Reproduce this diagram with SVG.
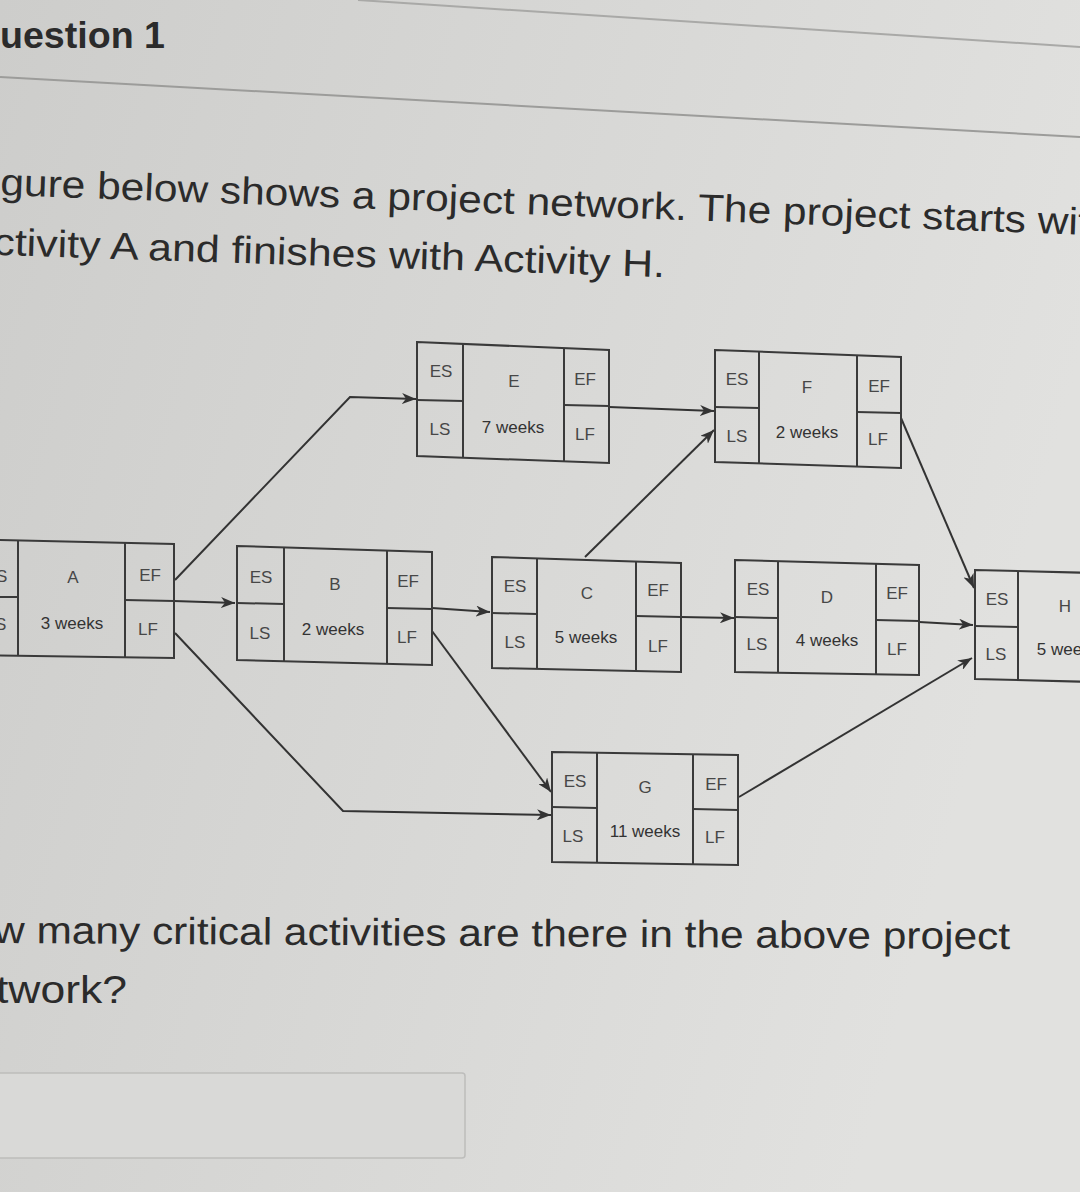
<svg xmlns="http://www.w3.org/2000/svg" width="1080" height="1192" viewBox="0 0 1080 1192">
<defs>
<linearGradient id="bg" x1="0" y1="0" x2="1" y2="0.3">
<stop offset="0" stop-color="#cdcdcb"/>
<stop offset="0.5" stop-color="#d7d7d5"/>
<stop offset="1" stop-color="#e1e1df"/>
</linearGradient>
<marker id="arr" markerUnits="userSpaceOnUse" markerWidth="15" markerHeight="11" refX="14" refY="5.5" orient="auto">
<path d="M0,0 L14,5.5 L0,11 L4,5.5 z" fill="#333"/>
</marker>
<style>
.hd{font-family:"Liberation Sans",Arial,sans-serif;fill:#2b2b2b}
.box{fill:none;stroke:#3a3a3a;stroke-width:2}
.div{stroke:#3a3a3a;stroke-width:2;fill:none}
.lb{font-family:"Liberation Sans",Arial,sans-serif;font-size:17px;fill:#474747;text-anchor:middle}
.du{font-family:"Liberation Sans",Arial,sans-serif;font-size:17px;fill:#333;text-anchor:middle}
.cn{fill:none;stroke:#333;stroke-width:2;marker-end:url(#arr)}
</style>
</defs>
<rect x="0" y="0" width="1080" height="1192" fill="url(#bg)"/>
<g id="header">
<line x1="358" y1="0" x2="1080" y2="47" stroke="#a9a9a7" stroke-width="2"/>
<line x1="0" y1="77" x2="1080" y2="137" stroke="#9c9c9a" stroke-width="2"/>
<text class="hd" x="0" y="48" font-size="37" font-weight="bold" textLength="165" lengthAdjust="spacingAndGlyphs">uestion 1</text>
<text class="hd" x="0" y="195" font-size="38" transform="rotate(2.1 0 195)" textLength="1090" lengthAdjust="spacingAndGlyphs">gure below shows a project network. The project starts wit</text>
<text class="hd" x="-7" y="255" font-size="38" transform="rotate(1.9 0 255)" textLength="672" lengthAdjust="spacingAndGlyphs">ctivity A and finishes with Activity H.</text>
</g>
<g id="connectors">
<polyline class="cn" points="175,580 350,397 416,399"/>
<line class="cn" x1="174" y1="601" x2="235" y2="603"/>
<polyline class="cn" points="175,633 343,811 551,815"/>
<line class="cn" x1="432" y1="608" x2="490" y2="612"/>
<line class="cn" x1="432" y1="631" x2="551" y2="792"/>
<line class="cn" x1="609" y1="407" x2="714" y2="411"/>
<line class="cn" x1="585" y1="557" x2="714" y2="430"/>
<line class="cn" x1="681" y1="617" x2="734" y2="618"/>
<line class="cn" x1="901" y1="418" x2="974" y2="588"/>
<line class="cn" x1="919" y1="622" x2="973" y2="625"/>
<line class="cn" x1="739" y1="797" x2="972" y2="658"/>
</g>
<g id="node-A">
<polygon class="box" points="-40,539 174,544 174,658 -40,655"/>
<line class="div" x1="18" y1="540" x2="18" y2="656"/>
<line class="div" x1="125" y1="543" x2="125" y2="657"/>
<line class="div" x1="-40" y1="597" x2="18" y2="597"/>
<line class="div" x1="125" y1="600" x2="174" y2="601"/>
<text class="lb" x="-4" y="582">ES</text>
<text class="lb" x="-4" y="630">LS</text>
<text class="lb" x="73" y="583">A</text>
<text class="du" x="72" y="629">3 weeks</text>
<text class="lb" x="150" y="581">EF</text>
<text class="lb" x="148" y="635">LF</text>
</g>
<g id="node-B">
<polygon class="box" points="237,546 432,552 432,665 237,660"/>
<line class="div" x1="284" y1="547" x2="284" y2="661"/>
<line class="div" x1="387" y1="550" x2="387" y2="664"/>
<line class="div" x1="237" y1="603" x2="284" y2="604"/>
<line class="div" x1="387" y1="608" x2="432" y2="609"/>
<text class="lb" x="261" y="583">ES</text>
<text class="lb" x="335" y="590">B</text>
<text class="lb" x="408" y="587">EF</text>
<text class="lb" x="260" y="639">LS</text>
<text class="du" x="333" y="635">2 weeks</text>
<text class="lb" x="407" y="643">LF</text>
</g>
<g id="node-E">
<polygon class="box" points="417,342 609,350 609,463 417,456"/>
<line class="div" x1="463" y1="344" x2="463" y2="458"/>
<line class="div" x1="564" y1="348" x2="564" y2="462"/>
<line class="div" x1="417" y1="400" x2="463" y2="401"/>
<line class="div" x1="564" y1="405" x2="609" y2="406"/>
<text class="lb" x="441" y="377">ES</text>
<text class="lb" x="514" y="387">E</text>
<text class="lb" x="585" y="385">EF</text>
<text class="lb" x="440" y="435">LS</text>
<text class="du" x="513" y="433">7 weeks</text>
<text class="lb" x="585" y="440">LF</text>
</g>
<g id="node-F">
<polygon class="box" points="715,350 901,357 901,468 715,462"/>
<line class="div" x1="759" y1="352" x2="759" y2="464"/>
<line class="div" x1="857" y1="355" x2="857" y2="467"/>
<line class="div" x1="715" y1="407" x2="759" y2="408"/>
<line class="div" x1="857" y1="412" x2="901" y2="413"/>
<text class="lb" x="737" y="385">ES</text>
<text class="lb" x="807" y="393">F</text>
<text class="lb" x="879" y="392">EF</text>
<text class="lb" x="737" y="442">LS</text>
<text class="du" x="807" y="438">2 weeks</text>
<text class="lb" x="878" y="445">LF</text>
</g>
<g id="node-C">
<polygon class="box" points="492,557 681,563 681,672 492,668"/>
<line class="div" x1="537" y1="558" x2="537" y2="669"/>
<line class="div" x1="636" y1="561" x2="636" y2="671"/>
<line class="div" x1="492" y1="613" x2="537" y2="614"/>
<line class="div" x1="636" y1="616" x2="681" y2="617"/>
<text class="lb" x="515" y="592">ES</text>
<text class="lb" x="587" y="599">C</text>
<text class="lb" x="658" y="596">EF</text>
<text class="lb" x="515" y="648">LS</text>
<text class="du" x="586" y="643">5 weeks</text>
<text class="lb" x="658" y="652">LF</text>
</g>
<g id="node-D">
<polygon class="box" points="735,560 919,565 919,675 735,672"/>
<line class="div" x1="778" y1="561" x2="778" y2="673"/>
<line class="div" x1="876" y1="564" x2="876" y2="674"/>
<line class="div" x1="735" y1="617" x2="778" y2="618"/>
<line class="div" x1="876" y1="620" x2="919" y2="621"/>
<text class="lb" x="758" y="595">ES</text>
<text class="lb" x="827" y="603">D</text>
<text class="lb" x="897" y="599">EF</text>
<text class="lb" x="757" y="650">LS</text>
<text class="du" x="827" y="646">4 weeks</text>
<text class="lb" x="897" y="655">LF</text>
</g>
<g id="node-H">
<polygon class="box" points="975,570 1095,573 1095,682 975,679"/>
<line class="div" x1="1018" y1="571" x2="1018" y2="680"/>
<line class="div" x1="975" y1="626" x2="1018" y2="627"/>
<text class="lb" x="997" y="605">ES</text>
<text class="lb" x="1065" y="612">H</text>
<text class="lb" x="996" y="660">LS</text>
<text class="du" x="1068" y="655">5 weeks</text>
</g>
<g id="node-G">
<polygon class="box" points="552,752 738,755 738,865 552,862"/>
<line class="div" x1="597" y1="753" x2="597" y2="863"/>
<line class="div" x1="693" y1="754" x2="693" y2="864"/>
<line class="div" x1="552" y1="807" x2="597" y2="808"/>
<line class="div" x1="693" y1="809" x2="738" y2="810"/>
<text class="lb" x="575" y="787">ES</text>
<text class="lb" x="645" y="793">G</text>
<text class="lb" x="716" y="790">EF</text>
<text class="lb" x="573" y="842">LS</text>
<text class="du" x="645" y="837">11 weeks</text>
<text class="lb" x="715" y="843">LF</text>
</g>
<g id="question">
<text class="hd" x="-6" y="943" font-size="38" transform="rotate(0.35 0 943)" textLength="1016" lengthAdjust="spacingAndGlyphs">w many critical activities are there in the above project</text>
<text class="hd" x="-4" y="1003" font-size="38" textLength="131" lengthAdjust="spacingAndGlyphs">twork?</text>
<rect x="-10" y="1073" width="475" height="85" rx="3" fill="#d9d9d7" stroke="#bdbdbb" stroke-width="1.5"/>
</g>
</svg>
